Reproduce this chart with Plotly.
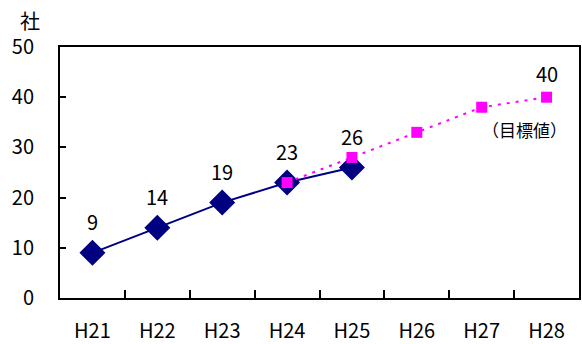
import plotly.graph_objects as go

categories = ["H21", "H22", "H23", "H24", "H25", "H26", "H27", "H28"]
actual_x = ["H21", "H22", "H23", "H24", "H25"]
actual_vals = [9, 14, 19, 23, 26]
target_x = ["H24", "H25", "H26", "H27", "H28"]
target_vals = [23, 28, 33, 38, 40]
y_ticks = [0, 10, 20, 30, 40, 50]

FONT = "Noto Sans CJK JP"
FS = 20
fig = go.Figure()
fig.add_trace(go.Scatter(x=actual_x, y=actual_vals, mode="lines+markers",
                         line=dict(color="#000080", width=2),
                         marker=dict(symbol="diamond", size=20, color="#000080"),
                         cliponaxis=False))
fig.add_trace(go.Scatter(x=target_x, y=target_vals, mode="lines+markers",
                         line=dict(color="#FF00FF", width=2, dash="3px,6px"),
                         marker=dict(symbol="square", size=11, color="#FF00FF"),
                         cliponaxis=False))

annotations = []
for cx, v in zip(actual_x, actual_vals):
    annotations.append(dict(x=cx, y=v, text=str(v), showarrow=False, yshift=31,
                            font=dict(size=FS, color="black", family=FONT)))
annotations.append(dict(x=target_x[-1], y=target_vals[-1], text=str(target_vals[-1]),
                        showarrow=False, yshift=24, font=dict(size=FS, color="black", family=FONT)))
annotations.append(dict(x=target_x[-1], y=target_vals[-1], text="（目標値）", showarrow=False,
                        yshift=-32, xshift=-22, font=dict(size=17, color="black", family=FONT)))
annotations.append(dict(xref="paper", yref="paper", x=0, y=1.0, xanchor="center",
                        yanchor="middle", xshift=-30, yshift=27, text="社", showarrow=False,
                        font=dict(size=FS, color="black", family=FONT)))

fig.update_layout(
    width=582, height=344,
    margin=dict(l=60, r=3, t=47, b=46),
    plot_bgcolor="white", paper_bgcolor="white",
    showlegend=False,
    annotations=annotations,
    font=dict(family=FONT, size=FS, color="black"),
)
fig.update_xaxes(type="category", categoryorder="array", categoryarray=categories,
                 range=[-0.5, 7.5], showline=True, linecolor="black", linewidth=2,
                 mirror=True, ticks="inside", ticklen=8, tickcolor="black", tickwidth=2,
                 tickson="boundaries", showgrid=False, ticklabelstandoff=14,
                 automargin=False, tickfont=dict(size=FS, family=FONT))
fig.update_yaxes(range=[0, 50], tickvals=y_ticks, showline=True, linecolor="black",
                 linewidth=2, mirror=True, ticks="inside", ticklen=6, tickcolor="black",
                 tickwidth=2, showgrid=False, zeroline=False, ticklabelstandoff=20,
                 automargin=False, tickfont=dict(size=FS, family=FONT))

fig.write_html("out.html", config={"displayModeBar": False},
               post_script="document.body.style.margin='0';")
